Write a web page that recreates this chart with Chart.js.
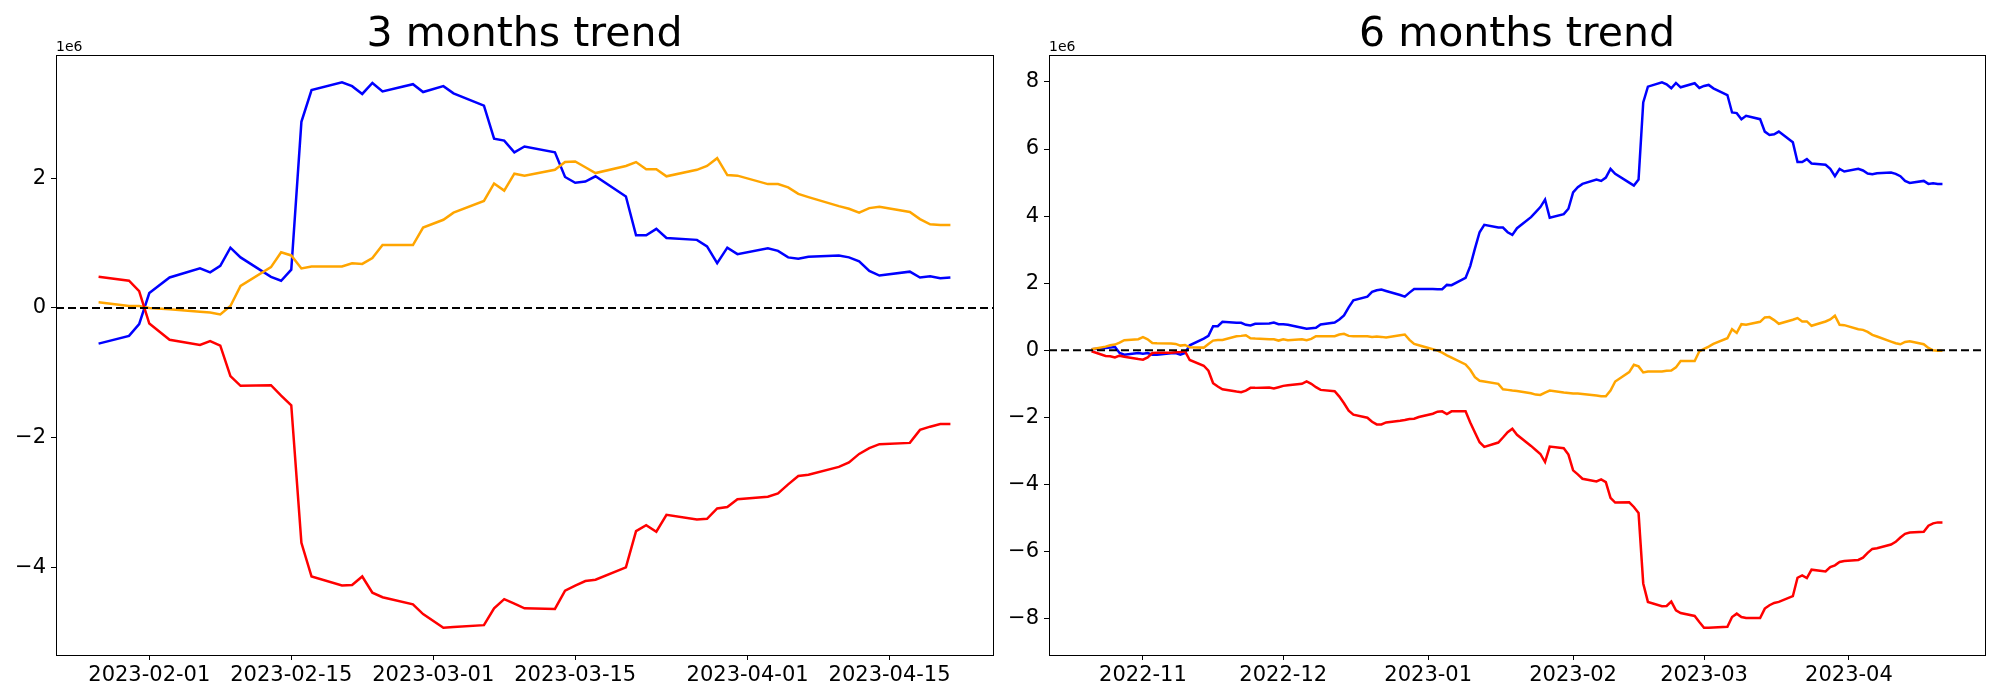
<!DOCTYPE html>
<html>
<head>
<meta charset="utf-8">
<script src="https://cdn.jsdelivr.net/npm/chart.js@4.4.1/dist/chart.umd.min.js"></script>
<style>
    html, body { margin: 0; padding: 0; background: #fff; }
    #wrap { position: relative; width: 2000px; height: 700px; }
    canvas { position: absolute; top: 0; }
</style>
</head>
<body>
<div id="wrap">
    <canvas id="chart-3m" width="1000" height="700" style="left:0"></canvas>
    <canvas id="chart-6m" width="1000" height="700" style="left:1000px"></canvas>
</div>
<script>
// 3 months trend (values in units of 1e6)
const threeDates = [
    '2023-01-27', '2023-01-30', '2023-01-31', '2023-02-01', '2023-02-03',
    '2023-02-06', '2023-02-07', '2023-02-08', '2023-02-09', '2023-02-10',
    '2023-02-13', '2023-02-14', '2023-02-15', '2023-02-16', '2023-02-17',
    '2023-02-20', '2023-02-21', '2023-02-22', '2023-02-23', '2023-02-24',
    '2023-02-27', '2023-02-28', '2023-03-02', '2023-03-03',
    '2023-03-06', '2023-03-07', '2023-03-08', '2023-03-09', '2023-03-10',
    '2023-03-13', '2023-03-14', '2023-03-15', '2023-03-16', '2023-03-17',
    '2023-03-20', '2023-03-21', '2023-03-22', '2023-03-23', '2023-03-24',
    '2023-03-27', '2023-03-28', '2023-03-29', '2023-03-30', '2023-03-31',
    '2023-04-03', '2023-04-04', '2023-04-05', '2023-04-06', '2023-04-07',
    '2023-04-10', '2023-04-11', '2023-04-12', '2023-04-13', '2023-04-14',
    '2023-04-17', '2023-04-18', '2023-04-19', '2023-04-20', '2023-04-21'
];
const threeBlue = [
    -0.55, -0.43, -0.25, 0.23, 0.47,
    0.61, 0.55, 0.65, 0.93, 0.78,
    0.48, 0.42, 0.59, 2.87, 3.36,
    3.48, 3.42, 3.30, 3.47, 3.34,
    3.45, 3.33, 3.42, 3.31,
    3.12, 2.61, 2.58, 2.40, 2.49,
    2.40, 2.02, 1.93, 1.95, 2.03,
    1.72, 1.12, 1.12, 1.22, 1.08,
    1.05, 0.95, 0.69, 0.93, 0.83,
    0.92, 0.88, 0.78, 0.76, 0.79,
    0.81, 0.78, 0.72, 0.57, 0.50,
    0.56, 0.47, 0.49, 0.46, 0.47
];
const threeOrange = [
    0.09, 0.03, 0.03, 0.00, -0.02,
    -0.06, -0.07, -0.10, 0.03, 0.34,
    0.63, 0.86, 0.81, 0.61, 0.64,
    0.64, 0.69, 0.68, 0.77, 0.97,
    0.97, 1.24, 1.36, 1.47,
    1.65, 1.92, 1.81, 2.07, 2.04,
    2.13, 2.25, 2.26, 2.17, 2.08,
    2.19, 2.25, 2.14, 2.14, 2.03,
    2.13, 2.19, 2.31, 2.05, 2.04,
    1.91, 1.91, 1.86, 1.76, 1.71,
    1.57, 1.53, 1.47, 1.54, 1.56,
    1.48, 1.37, 1.29, 1.28, 1.28
];
const threeRed = [
    0.48, 0.42, 0.26, -0.24, -0.49,
    -0.57, -0.51, -0.58, -1.05, -1.20,
    -1.19, -1.35, -1.50, -3.62, -4.14,
    -4.28, -4.27, -4.14, -4.39, -4.46,
    -4.57, -4.72, -4.93, -4.92,
    -4.89, -4.63, -4.49, -4.56, -4.63,
    -4.64, -4.36, -4.28, -4.21, -4.19,
    -4.00, -3.44, -3.35, -3.45, -3.19,
    -3.26, -3.25, -3.09, -3.07, -2.95,
    -2.91, -2.86, -2.72, -2.59, -2.57,
    -2.45, -2.38, -2.25, -2.16, -2.10,
    -2.08, -1.88, -1.83, -1.79, -1.79
];
const threeTickLabels = ['2023-02-01', '2023-02-15', '2023-03-01', '2023-03-15', '2023-04-01', '2023-04-15'];
const threeYTicks = [-4, -2, 0, 2];

// 6 months trend (values in units of 1e6)
const sixDates = [
    '2022-10-21',
    '2022-10-24', '2022-10-25', '2022-10-26', '2022-10-27', '2022-10-28',
    '2022-10-31', '2022-11-01', '2022-11-02', '2022-11-03', '2022-11-04',
    '2022-11-07', '2022-11-08', '2022-11-09', '2022-11-10', '2022-11-11',
    '2022-11-14', '2022-11-15', '2022-11-16', '2022-11-17', '2022-11-18',
    '2022-11-21', '2022-11-22', '2022-11-23', '2022-11-24', '2022-11-25',
    '2022-11-28', '2022-11-29', '2022-11-30', '2022-12-01', '2022-12-02',
    '2022-12-05', '2022-12-06', '2022-12-07', '2022-12-08', '2022-12-09',
    '2022-12-12', '2022-12-13', '2022-12-14', '2022-12-15', '2022-12-16',
    '2022-12-19', '2022-12-20', '2022-12-21', '2022-12-22', '2022-12-23',
    '2022-12-26', '2022-12-27', '2022-12-28', '2022-12-29', '2022-12-30',
    '2023-01-02', '2023-01-03', '2023-01-04', '2023-01-05', '2023-01-06',
    '2023-01-09', '2023-01-10', '2023-01-11', '2023-01-12', '2023-01-13',
    '2023-01-16', '2023-01-17', '2023-01-18', '2023-01-19', '2023-01-20',
    '2023-01-23', '2023-01-24', '2023-01-25', '2023-01-26', '2023-01-27',
    '2023-01-30', '2023-01-31', '2023-02-01', '2023-02-02', '2023-02-03',
    '2023-02-06', '2023-02-07', '2023-02-08', '2023-02-09', '2023-02-10',
    '2023-02-13', '2023-02-14', '2023-02-15', '2023-02-16', '2023-02-17',
    '2023-02-20', '2023-02-21', '2023-02-22', '2023-02-23', '2023-02-24',
    '2023-02-27', '2023-02-28', '2023-03-01', '2023-03-02', '2023-03-03',
    '2023-03-06', '2023-03-07', '2023-03-08', '2023-03-09', '2023-03-10',
    '2023-03-13', '2023-03-14', '2023-03-15', '2023-03-16', '2023-03-17',
    '2023-03-20', '2023-03-21', '2023-03-22', '2023-03-23', '2023-03-24',
    '2023-03-27', '2023-03-28', '2023-03-29', '2023-03-30', '2023-03-31',
    '2023-04-03', '2023-04-04', '2023-04-05', '2023-04-06', '2023-04-07',
    '2023-04-10', '2023-04-11', '2023-04-12', '2023-04-13', '2023-04-14',
    '2023-04-17', '2023-04-18', '2023-04-19', '2023-04-20', '2023-04-21'
];
const sixBlue = [
    0.03,
    0.07, 0.08, 0.10, -0.08, -0.13,
    -0.08, -0.10, -0.08, -0.13, -0.13,
    -0.09, -0.08, -0.13, -0.08, 0.15,
    0.35, 0.43, 0.72, 0.72, 0.85,
    0.82, 0.82, 0.76, 0.74, 0.79,
    0.80, 0.83, 0.78, 0.78, 0.76,
    0.67, 0.64, 0.66, 0.67, 0.77,
    0.83, 0.92, 1.04, 1.28, 1.49,
    1.60, 1.74, 1.79, 1.81, 1.77,
    1.65, 1.60, 1.72, 1.83, 1.83,
    1.83, 1.82, 1.82, 1.95, 1.94,
    2.16, 2.51, 3.03, 3.52, 3.74,
    3.66, 3.66, 3.52, 3.44, 3.64,
    3.97, 4.12, 4.27, 4.49, 3.95,
    4.06, 4.22, 4.71, 4.86, 4.96,
    5.09, 5.05, 5.15, 5.41, 5.26,
    5.00, 4.91, 5.09, 7.39, 7.86,
    7.99, 7.93, 7.81, 7.97, 7.84,
    7.96, 7.82, 7.88, 7.91, 7.81,
    7.61, 7.09, 7.07, 6.89, 6.99,
    6.89, 6.52, 6.42, 6.44, 6.52,
    6.20, 5.61, 5.61, 5.70, 5.57,
    5.53, 5.41, 5.19, 5.41, 5.33,
    5.41, 5.36, 5.27, 5.25, 5.28,
    5.30, 5.26, 5.19, 5.05, 4.99,
    5.05, 4.96, 4.98, 4.96, 4.96
];
const sixOrange = [
    0.03,
    0.11, 0.15, 0.17, 0.23, 0.30,
    0.33, 0.39, 0.33, 0.22, 0.21,
    0.20, 0.19, 0.14, 0.16, 0.09,
    0.08, 0.19, 0.29, 0.31, 0.31,
    0.42, 0.43, 0.45, 0.36, 0.35,
    0.33, 0.33, 0.29, 0.33, 0.30,
    0.33, 0.30, 0.34, 0.42, 0.42,
    0.42, 0.47, 0.49, 0.43, 0.42,
    0.42, 0.40, 0.41, 0.40, 0.38,
    0.45, 0.47, 0.31, 0.19, 0.15,
    0.03, -0.01, -0.07, -0.15, -0.22,
    -0.42, -0.58, -0.80, -0.91, -0.93,
    -1.00, -1.16, -1.18, -1.20, -1.21,
    -1.28, -1.32, -1.33, -1.26, -1.20,
    -1.26, -1.27, -1.29, -1.29, -1.30,
    -1.35, -1.37, -1.37, -1.20, -0.93,
    -0.65, -0.43, -0.48, -0.66, -0.63,
    -0.63, -0.61, -0.60, -0.51, -0.32,
    -0.32, -0.03, 0.04, 0.11, 0.19,
    0.36, 0.63, 0.52, 0.78, 0.76,
    0.85, 0.98, 0.99, 0.90, 0.79,
    0.91, 0.96, 0.86, 0.86, 0.73,
    0.86, 0.92, 1.03, 0.76, 0.75,
    0.63, 0.61, 0.55, 0.46, 0.41,
    0.26, 0.21, 0.18, 0.25, 0.27,
    0.18, 0.07, 0.00, -0.01, -0.01
];
const sixRed = [
    -0.03,
    -0.17, -0.18, -0.21, -0.16, -0.19,
    -0.26, -0.28, -0.21, -0.08, -0.07,
    -0.07, -0.06, -0.05, -0.03, -0.29,
    -0.46, -0.61, -0.98, -1.08, -1.16,
    -1.23, -1.25, -1.20, -1.12, -1.12,
    -1.11, -1.14, -1.10, -1.06, -1.04,
    -1.00, -0.93, -1.00, -1.10, -1.18,
    -1.22, -1.38, -1.58, -1.80, -1.92,
    -2.01, -2.13, -2.21, -2.21, -2.15,
    -2.10, -2.08, -2.05, -2.04, -1.99,
    -1.89, -1.83, -1.82, -1.90, -1.82,
    -1.82, -2.15, -2.45, -2.74, -2.88,
    -2.75, -2.60, -2.44, -2.34, -2.52,
    -2.85, -2.97, -3.09, -3.33, -2.87,
    -2.92, -3.11, -3.58, -3.70, -3.83,
    -3.91, -3.85, -3.93, -4.40, -4.54,
    -4.53, -4.67, -4.85, -6.95, -7.50,
    -7.63, -7.62, -7.49, -7.75, -7.83,
    -7.92, -8.10, -8.27, -8.27, -8.26,
    -8.24, -7.95, -7.85, -7.95, -7.98,
    -7.98, -7.70, -7.60, -7.53, -7.50,
    -7.33, -6.78, -6.71, -6.79, -6.54,
    -6.59, -6.46, -6.41, -6.31, -6.28,
    -6.25, -6.18, -6.04, -5.92, -5.90,
    -5.79, -5.71, -5.58, -5.47, -5.43,
    -5.41, -5.23, -5.16, -5.13, -5.13
];
const sixTickLabels = ['2022-11', '2022-12', '2023-01', '2023-02', '2023-03', '2023-04'];
const sixYTicks = [-8, -6, -4, -2, 0, 2, 4, 6, 8];

const FONT = "'DejaVu Sans', 'Liberation Sans', sans-serif";
const toDay = (s) => Date.parse(s.length === 7 ? s + '-01' : s) / 86400000;
const formatTick = (v) => (v < 0 ? '\u2212' + Math.abs(v) : String(v));

// axes box, zero line, title and the 1e6 offset label
const framePlugin = {
    id: 'frame',
    afterDatasetsDraw(chart) {
        const { ctx, chartArea: a, scales } = chart;
        const y0 = scales.y.getPixelForValue(0);
        ctx.save();
        ctx.strokeStyle = '#000';
        ctx.lineWidth = 2.1;
        ctx.setLineDash([8, 4]);
        ctx.beginPath();
        ctx.moveTo(a.left, y0);
        ctx.lineTo(a.right, y0);
        ctx.stroke();
        ctx.restore();
    },
    afterDraw(chart, args, opts) {
        const { ctx, chartArea: a } = chart;
        ctx.save();
        ctx.strokeStyle = '#000';
        ctx.lineWidth = 1;
        ctx.strokeRect(Math.round(a.left) + 0.5, Math.round(a.top) + 0.5,
            Math.round(a.right - a.left), Math.round(a.bottom - a.top));
        ctx.fillStyle = '#000';
        ctx.textBaseline = 'alphabetic';
        ctx.textAlign = 'center';
        ctx.font = `41px ${FONT}`;
        ctx.fillText(opts.title, (a.left + a.right) / 2, 46);
        ctx.textAlign = 'left';
        ctx.font = `14px ${FONT}`;
        ctx.fillText('1e6', a.left, 51);
        ctx.restore();
    }
};

function renderTrendChart(canvasId, cfg) {
    const ctx = document.getElementById(canvasId);
    if (!ctx) {
        console.error(`Canvas ${canvasId} not found`);
        return;
    }
    const xs = cfg.dates.map(toDay);
    const toPoints = (vals) => vals.map((v, i) => ({ x: xs[i], y: v }));

    // matplotlib-like 5% margins
    const xMin = Math.min(...xs), xMax = Math.max(...xs);
    const xPad = (xMax - xMin) * 0.05;
    const allY = [...cfg.blue, ...cfg.orange, ...cfg.red];
    const yMin = Math.min(...allY), yMax = Math.max(...allY);
    const yPad = (yMax - yMin) * 0.05;

    const line = (label, data, color) => ({
        label: label,
        data: toPoints(data),
        borderColor: color,
        borderWidth: 2.5,
        pointRadius: 0,
        tension: 0,
        fill: false
    });

    new Chart(ctx, {
        type: 'line',
        data: {
            datasets: [
                line('red', cfg.red, '#ff0000'),
                line('orange', cfg.orange, '#ffa500'),
                line('blue', cfg.blue, '#0000ff')
            ]
        },
        options: {
            responsive: false,
            animation: false,
            devicePixelRatio: 1,
            events: [],
            layout: { padding: { top: 55, right: cfg.padRight, bottom: 0, left: 0 } },
            plugins: {
                legend: { display: false },
                tooltip: { enabled: false },
                frame: { title: cfg.title }
            },
            scales: {
                x: {
                    type: 'linear',
                    min: xMin - xPad,
                    max: xMax + xPad,
                    afterBuildTicks: (scale) => {
                        scale.ticks = cfg.tickLabels.map((t) => ({ value: toDay(t), label: t }));
                    },
                    afterFit: (scale) => { scale.height = 45; },
                    border: { display: false },
                    grid: { drawOnChartArea: false, drawTicks: true, tickLength: 5, tickColor: '#000', tickWidth: 1 },
                    ticks: {
                        autoSkip: false,
                        maxRotation: 0,
                        padding: 3,
                        color: '#000',
                        font: { family: FONT, size: 21 },
                        callback: (value) => {
                            const i = cfg.tickLabels.findIndex((t) => toDay(t) === value);
                            return i >= 0 ? cfg.tickLabels[i] : '';
                        }
                    }
                },
                y: {
                    type: 'linear',
                    min: yMin - yPad,
                    max: yMax + yPad,
                    afterBuildTicks: (scale) => {
                        scale.ticks = cfg.yTicks.map((v) => ({ value: v }));
                    },
                    afterFit: (scale) => { scale.width = cfg.yWidth; },
                    border: { display: false },
                    grid: { drawOnChartArea: false, drawTicks: true, tickLength: 5, tickColor: '#000', tickWidth: 1 },
                    ticks: {
                        padding: 5,
                        color: '#000',
                        font: { family: FONT, size: 21 },
                        callback: (value) => formatTick(value)
                    }
                }
            }
        },
        plugins: [framePlugin]
    });
}

try {
    renderTrendChart('chart-3m', {
        title: '3 months trend',
        dates: threeDates, blue: threeBlue, orange: threeOrange, red: threeRed,
        tickLabels: threeTickLabels, yTicks: threeYTicks,
        yWidth: 56, padRight: 7
    });
    renderTrendChart('chart-6m', {
        title: '6 months trend',
        dates: sixDates, blue: sixBlue, orange: sixOrange, red: sixRed,
        tickLabels: sixTickLabels, yTicks: sixYTicks,
        yWidth: 49, padRight: 15
    });
} catch (error) {
    console.error('Error rendering charts:', error);
}
</script>
</body>
</html>
